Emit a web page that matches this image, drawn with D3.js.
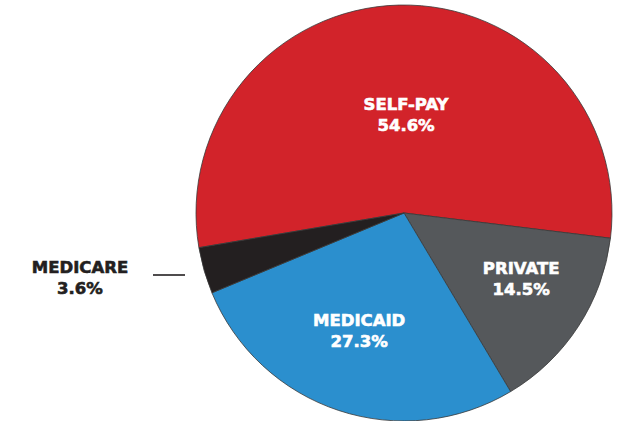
<!DOCTYPE html>
<html lang="en">
<head>
  <meta charset="UTF-8">
  <title>Payer mix pie</title>
  <script src="https://d3js.org/d3.v7.min.js"></script>
  <style>
    body { margin: 0; padding: 0; background: #fff; }
    svg { display: block; }
    text { font-family: "DejaVu Sans", sans-serif; font-weight: bold; font-size: 16.5px; stroke-width: 0.6px; }
  </style>
</head>
<body>
  <div id="chart"></div>
  <script>
    // Data
    const categories = ["SELF-PAY", "PRIVATE", "MEDICAID", "MEDICARE"];
    const shares = [54.6, 14.5, 27.3, 3.6];
    const colors = ["#d2232a", "#55585b", "#2b8fce", "#231f20"];

    const width = 624, height = 421;
    const cx = 404, cy = 213, radius = 208;

    const svg = d3.select("#chart").append("svg")
      .attr("width", width)
      .attr("height", height);

    const startA = -99.6 * Math.PI / 180;
    const pie = d3.pie()
      .sort(null)
      .value(d => d.value)
      .startAngle(startA)
      .endAngle(startA + 2 * Math.PI);

    const data = categories.map((c, i) => ({ name: c, value: shares[i], color: colors[i] }));
    const arcs = pie(data);

    const arc = d3.arc().innerRadius(0).outerRadius(radius);

    const g = svg.append("g").attr("transform", `translate(${cx},${cy})`);

    g.selectAll("path")
      .data(arcs)
      .join("path")
      .attr("d", arc)
      .attr("fill", d => d.data.color)
      .attr("stroke", "#3a3a3a")
      .attr("stroke-width", 0.8);

    // label placement: distance from center and angle nudge (degrees) for inside labels
    const labelPos = {
      "SELF-PAY": { r: 99, da: 2.5 },
      "PRIVATE": { r: 134, da: -4 },
      "MEDICAID": { r: 125, da: 2.7 }
    };

    const inside = arcs.filter(d => labelPos[d.data.name]);
    const lab = g.selectAll("g.lab")
      .data(inside)
      .join("g")
      .attr("class", "lab")
      .attr("transform", d => {
        const p = labelPos[d.data.name];
        const a = (d.startAngle + d.endAngle) / 2 + p.da * Math.PI / 180;
        return `translate(${Math.sin(a) * p.r},${-Math.cos(a) * p.r})`;
      });

    lab.append("text")
      .attr("text-anchor", "middle")
      .attr("y", -4)
      .attr("fill", "#fff")
      .attr("stroke", "#fff")
      .text(d => d.data.name);
    lab.append("text")
      .attr("text-anchor", "middle")
      .attr("y", 17)
      .attr("fill", "#fff")
      .attr("stroke", "#fff")
      .text(d => d.data.value.toFixed(1) + "%");

    // Medicare: outside label with a short leader line
    const med = arcs[3];
    svg.append("line")
      .attr("x1", 153).attr("x2", 185)
      .attr("y1", 275).attr("y2", 275)
      .attr("stroke", "#231f20")
      .attr("stroke-width", 1.6);
    svg.append("text")
      .attr("x", 80).attr("y", 273)
      .attr("text-anchor", "middle")
      .attr("fill", "#231f20")
      .attr("stroke", "#231f20")
      .text(med.data.name);
    svg.append("text")
      .attr("x", 80).attr("y", 294)
      .attr("text-anchor", "middle")
      .attr("fill", "#231f20")
      .attr("stroke", "#231f20")
      .text(med.data.value.toFixed(1) + "%");
  </script>
</body>
</html>
